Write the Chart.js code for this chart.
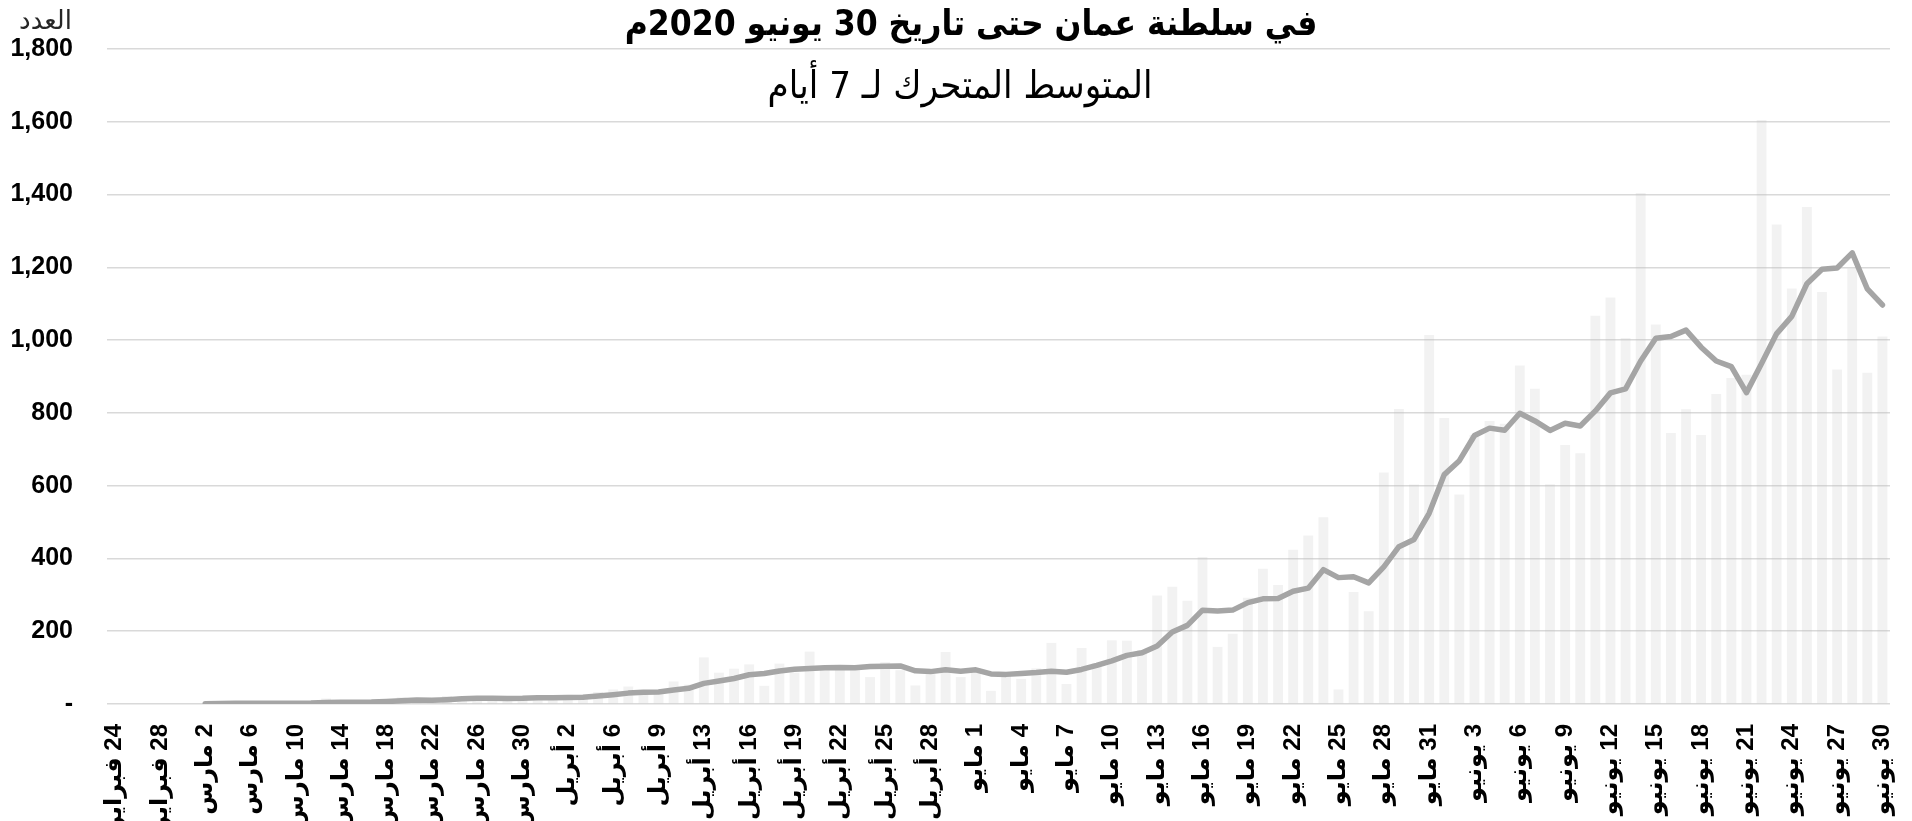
<!DOCTYPE html>
<html lang="ar">
<head>
<meta charset="utf-8">
<title>Oman COVID-19 daily cases</title>
<script src="https://cdn.jsdelivr.net/npm/chart.js@4/dist/chart.umd.min.js"></script>
<style>
  html, body { margin: 0; padding: 0; background: #ffffff; }
  #c { display: block; direction: rtl; }
</style>
</head>
<body>
<canvas id="c" width="1912" height="821"></canvas>
<script>
const TITLE = 'في سلطنة عمان حتى تاريخ 30 يونيو 2020م';
const SUBTITLE = 'المتوسط المتحرك لـ 7 أيام';
const Y_AXIS_LABEL = 'العدد';

const categories = [
  '24 فبراير','25 فبراير','26 فبراير','28 فبراير','29 فبراير',
  '1 مارس','2 مارس','3 مارس','4 مارس','6 مارس','7 مارس','8 مارس','10 مارس','11 مارس','12 مارس',
  '14 مارس','15 مارس','16 مارس','18 مارس','19 مارس','20 مارس','22 مارس','23 مارس','24 مارس',
  '26 مارس','27 مارس','28 مارس','30 مارس','31 مارس',
  '1 أبريل','2 أبريل','3 أبريل','4 أبريل','6 أبريل','7 أبريل','8 أبريل','9 أبريل','10 أبريل','11 أبريل',
  '13 أبريل','14 أبريل','15 أبريل','16 أبريل','17 أبريل','18 أبريل','19 أبريل','20 أبريل','21 أبريل',
  '22 أبريل','23 أبريل','24 أبريل','25 أبريل','26 أبريل','27 أبريل','28 أبريل','29 أبريل','30 أبريل',
  '1 مايو','2 مايو','3 مايو','4 مايو','5 مايو','6 مايو','7 مايو','8 مايو','9 مايو','10 مايو',
  '11 مايو','12 مايو','13 مايو','14 مايو','15 مايو','16 مايو','17 مايو','18 مايو','19 مايو','20 مايو',
  '21 مايو','22 مايو','23 مايو','24 مايو','25 مايو','26 مايو','27 مايو','28 مايو','29 مايو','30 مايو','31 مايو',
  '1 يونيو','2 يونيو','3 يونيو','4 يونيو','5 يونيو','6 يونيو','7 يونيو','8 يونيو','9 يونيو','10 يونيو',
  '11 يونيو','12 يونيو','13 يونيو','14 يونيو','15 يونيو','16 يونيو','17 يونيو','18 يونيو','19 يونيو','20 يونيو',
  '21 يونيو','22 يونيو','23 يونيو','24 يونيو','25 يونيو','26 يونيو','27 يونيو','28 يونيو','29 يونيو','30 يونيو'
];

// Daily new cases (bars)
const dailyCases = [
  2, 0, 0, 2, 0, 2, 0, 6, 3, 1,
  2, 1, 3, 2, 15, 9, 4, 3, 11, 18,
  15, 10, 22, 21, 15, 12, 13, 18, 21, 21,
  25, 21, 33, 40, 48, 38, 27, 62, 53, 128,
  86, 97, 109, 50, 111, 86, 144, 98, 106, 102,
  74, 115, 93, 51, 82, 143, 74, 99, 36, 85,
  69, 98, 168, 55, 154, 112, 175, 174, 148, 298,
  322, 284, 404, 157, 193, 292, 372, 327, 424, 463,
  513, 40, 308, 255, 636, 811, 603, 1014, 786, 576,
  739, 778, 770, 930, 866, 604, 712, 689, 1067, 1117,
  1006, 1404, 1043, 745, 810, 739, 852, 896, 905, 1605,
  1318, 1142, 1366, 1132, 919, 1197, 910, 1010
];

// 7-day moving average line
const movingAverage = [
  null, null, null, null, null, null, 0.9, 1.4, 1.9, 2.0,
  2.0, 2.1, 2.3, 2.6, 3.9, 4.7, 5.1, 5.3, 6.7, 8.9,
  10.7, 10.0, 11.9, 14.3, 16.0, 16.1, 15.4, 15.9, 17.4, 17.3,
  17.9, 18.7, 21.7, 25.6, 29.9, 32.3, 33.1, 38.4, 43.0, 56.6,
  63.1, 70.1, 80.3, 83.6, 90.6, 95.3, 97.6, 99.3, 100.6, 99.6,
  103.0, 103.6, 104.6, 91.3, 89.0, 94.3, 90.3, 93.9, 82.6, 81.4,
  84.0, 86.3, 89.9, 87.1, 95.0, 105.9, 118.7, 133.7, 140.9, 159.4,
  197.6, 216.1, 257.9, 255.3, 258.0, 278.6, 289.1, 289.9, 309.9, 318.3,
  369.1, 347.3, 349.6, 332.9, 377.0, 432.3, 452.3, 523.9, 630.4, 668.7,
  737.9, 758.1, 752.3, 799.0, 777.9, 751.9, 771.3, 764.1, 805.4, 855.0,
  865.9, 942.7, 1005.4, 1010.1, 1027.4, 980.6, 942.7, 927.0, 855.7, 936.0,
  1017.9, 1065.3, 1154.9, 1194.9, 1198.1, 1239.9, 1140.6, 1096.6
];

const yTicks = [0, 200, 400, 600, 800, 1000, 1200, 1400, 1600, 1800];
const labelEvery = 3;

const LATIN = "'Liberation Sans', 'DejaVu Sans', sans-serif";
const ARABIC = "'DejaVu Sans Condensed', 'DejaVu Sans', sans-serif";
const ARABIC_REG = "'DejaVu Sans', sans-serif";

function fitFont(ctx, text, weight, family, targetWidth, minSize, maxSize) {
  ctx.font = weight + ' 100px ' + family;
  const w = ctx.measureText(text).width;
  let size = 100 * targetWidth / w;
  size = Math.max(minSize, Math.min(maxSize, size));
  ctx.font = weight + ' ' + size.toFixed(2) + 'px ' + family;
}

const textPlugin = {
  id: 'headerTexts',
  afterDraw(chart) {
    const ctx = chart.ctx;
    ctx.save();
    ctx.direction = 'rtl';
    ctx.fillStyle = '#000000';
    ctx.textBaseline = 'alphabetic';
    ctx.textAlign = 'center';
    fitFont(ctx, TITLE, 'bold', ARABIC, 693, 18, 40);
    ctx.fillText(TITLE, 971, 35);
    fitFont(ctx, SUBTITLE, 'normal', ARABIC, 385, 18, 40);
    ctx.fillText(SUBTITLE, 960, 98);
    ctx.textAlign = 'right';
    ctx.fillStyle = '#262626';
    fitFont(ctx, Y_AXIS_LABEL, 'normal', ARABIC_REG, 59, 14, 26);
    ctx.fillText(Y_AXIS_LABEL, 72, 29);
    ctx.restore();
  }
};

const ctx = document.getElementById('c').getContext('2d');
new Chart(ctx, {
  type: 'bar',
  data: {
    labels: categories,
    datasets: [
      {
        type: 'line',
        label: 'المتوسط المتحرك لـ 7 أيام',
        data: movingAverage,
        borderColor: '#a5a5a5',
        borderWidth: 5.5,
        pointRadius: 0,
        tension: 0,
        fill: false,
        borderJoinStyle: 'round',
        borderCapStyle: 'round',
        order: 0
      },
      {
        type: 'bar',
        label: 'الحالات اليومية',
        data: dailyCases,
        backgroundColor: 'rgba(191,191,191,0.2)',
        borderWidth: 0,
        categoryPercentage: 1.0,
        barPercentage: 0.65,
        order: 1
      }
    ]
  },
  options: {
    responsive: false,
    devicePixelRatio: 1,
    animation: false,
    layout: { padding: { left: 10, right: 22, top: 49, bottom: 0 } },
    plugins: {
      legend: { display: false },
      tooltip: { enabled: false },
      title: { display: false }
    },
    scales: {
      x: {
        type: 'category',
        offset: true,
        grid: { display: false, drawTicks: false },
        border: { display: false },
        ticks: {
          autoSkip: false,
          minRotation: 90,
          maxRotation: 90,
          padding: 20,
          color: '#000000',
          font: { family: LATIN, size: 24, weight: 'bold' },
          callback: function (value, index) {
            return index % labelEvery === 0 ? categories[index] : null;
          }
        },
        afterFit: function (scale) {
          scale.height = 117;
          scale.paddingLeft = 0;
          scale.paddingRight = 0;
        }
      },
      y: {
        min: 0,
        max: 1800,
        afterBuildTicks: function (scale) {
          scale.ticks = yTicks.map(v => ({ value: v }));
        },
        grid: { color: '#d9d9d9', lineWidth: 1.5, drawTicks: false },
        border: { display: false },
        ticks: {
          padding: 34,
          color: '#000000',
          font: { family: LATIN, size: 25, weight: 'bold' },
          callback: function (value) {
            return value === 0 ? '-\u00A0\u00A0' : Number(value).toLocaleString('en-US');
          }
        },
        afterFit: function (scale) {
          scale.width = 97;
          scale.paddingTop = 0;
          scale.paddingBottom = 0;
        }
      }
    }
  },
  plugins: [textPlugin]
});
</script>
</body>
</html>
